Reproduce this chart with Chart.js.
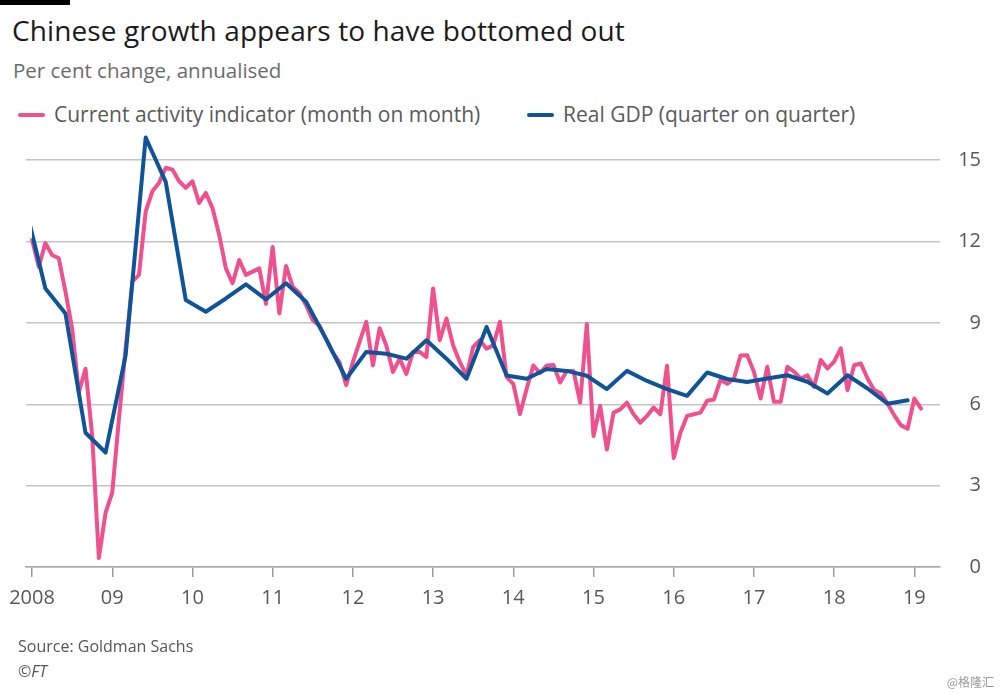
<!DOCTYPE html>
<html>
<head>
<meta charset="utf-8">
<script src="https://cdn.jsdelivr.net/npm/chart.js@4"></script>
<style>
  body { margin: 0; background: #fff; font-family: "Open Sans", sans-serif; }
  #wrap { position: relative; width: 1000px; height: 694px; overflow: hidden; }
  #bar { position: absolute; left: 0; top: 0; width: 70px; height: 5px; background: #000; }
  .txt { position: absolute; white-space: nowrap; }
  #title { left: 12px; top: 11px; font-size: 28px; color: #1b1b1b; letter-spacing: 0.1px; }
  #sub { left: 13px; top: 56px; font-size: 20.5px; color: #6b6b6b; }
  .key { position: absolute; top: 100px; font-size: 21px; color: #5a5a5a; }
  .key i { display: inline-block; width: 27px; height: 4px; border-radius: 2px; vertical-align: middle; margin-right: 9px; position: relative; top: -1px; }
  #src { left: 18px; top: 635px; font-size: 16px; color: #555; }
  #ft { left: 18px; top: 660px; font-size: 16px; color: #555; font-style: italic; }
  #mark { right: 6px; top: 673px; font-size: 12px; color: #999; font-family: "Noto Sans CJK SC", sans-serif; }
  canvas { position: absolute; left: 0; top: 0; }
</style>
</head>
<body>
<div id="wrap">
  <div id="bar"></div>
  <div class="txt" id="title">Chinese growth appears to have bottomed out</div>
  <div class="txt" id="sub">Per cent change, annualised</div>
  <div class="key" style="left:18px"><i style="background:#f0508e"></i>Current activity indicator (month on month)</div>
  <div class="key" style="left:527px"><i style="background:#0f5499"></i>Real GDP (quarter on quarter)</div>
  <canvas id="chart" width="1000" height="694"></canvas>
  <div class="txt" id="src">Source: Goldman Sachs</div>
  <div class="txt" id="ft">©FT</div>
  <div class="txt" id="mark">@格隆汇</div>
</div>
<script>
// Current activity indicator, monthly from Jan 2008 to Feb 2019
const caiMonthly = [
  12.06, 11.07, 11.94, 11.5, 11.38, 10.15, 8.79, 6.44, 7.31, 4.84, 0.33, 2.0,
  2.74, 5.46, 8.05, 10.52, 10.77, 13.1, 13.85, 14.16, 14.72, 14.65, 14.22, 13.98,
  14.22, 13.42, 13.79, 13.23, 12.25, 11.01, 10.46, 11.32, 10.77, 10.89, 11.01, 9.7,
  11.8, 9.35, 11.1, 10.33, 10.1, 9.65, 9.1, 8.9, 8.4, 7.9, 7.55, 6.7,
  7.55, 8.3, 9.04, 7.43, 8.8, 8.17, 7.19, 7.68, 7.12, 7.93, 7.93, 7.74,
  10.27, 8.36, 9.16, 8.17, 7.56, 7.06, 8.11, 8.36, 8.05, 8.17, 9.04, 7.0,
  6.75, 5.64, 6.57, 7.43, 7.15, 7.43, 7.45, 6.8, 7.23, 7.23, 6.06, 8.96,
  4.83, 5.94, 4.33, 5.69, 5.81, 6.06, 5.63, 5.32, 5.57, 5.88, 5.63, 7.42,
  4.02, 4.95, 5.57, 5.63, 5.69, 6.13, 6.17, 6.9, 6.75, 6.94, 7.8, 7.81,
  7.2, 6.21, 7.38, 6.09, 6.09, 7.38, 7.2, 6.95, 7.07, 6.64, 7.63, 7.32,
  7.57, 8.06, 6.52, 7.44, 7.5, 6.95, 6.52, 6.4, 6.02, 5.59, 5.22, 5.1,
  6.21, 5.84
];

// Real GDP q/q annualised, quarterly from 2007Q4 to 2018Q4 (plotted at quarter end)
const gdpQuarterly = [
  13.3,
  10.27, 9.35, 4.95, 4.22,
  7.8, 15.83, 14.2, 9.84,
  9.41, 9.9, 10.42, 9.87,
  10.46, 9.78, 8.4, 6.94,
  7.93, 7.86, 7.68, 8.36,
  7.68, 6.94, 8.85, 7.06,
  6.94, 7.3, 7.23, 7.05,
  6.56, 7.23, 6.86, 6.56,
  6.31, 7.17, 6.93, 6.82,
  6.95, 7.07, 6.83, 6.4,
  7.07, 6.58, 6.02, 6.15
];

const yearTicks = [2008, 2009, 2010, 2011, 2012, 2013, 2014, 2015, 2016, 2017, 2018, 2019];
const yearLabels = ['2008', '09', '10', '11', '12', '13', '14', '15', '16', '17', '18', '19'];
const yTicks = [0, 3, 6, 9, 12, 15];

const startYear = 2008;
const caiPoints = caiMonthly.map((v, i) => ({ x: startYear + i / 12, y: v }));
// first quarter end is Dec 2007, one month before the start
const gdpPoints = gdpQuarterly.map((v, i) => ({ x: startYear + (3 * i - 1) / 12, y: v }));

const labelFont = { family: '"Open Sans", sans-serif', size: 20 };

new Chart(document.getElementById('chart'), {
  type: 'line',
  data: {
    datasets: [
      {
        label: 'Real GDP (quarter on quarter)',
        data: gdpPoints,
        borderColor: '#0f5499',
        borderWidth: 4,
        borderJoinStyle: 'round',
        borderCapStyle: 'round',
        pointRadius: 0,
        tension: 0,
        clip: { left: -6, right: 2, top: 4, bottom: 4 }
      },
      {
        label: 'Current activity indicator (month on month)',
        data: caiPoints,
        borderColor: '#f0508e',
        borderWidth: 4,
        borderJoinStyle: 'round',
        borderCapStyle: 'round',
        pointRadius: 0,
        tension: 0
      }
    ]
  },
  options: {
    responsive: false,
    animation: false,
    layout: { padding: { left: 26, top: 133, right: 19, bottom: 0 } },
    plugins: { legend: { display: false }, tooltip: { enabled: false } },
    scales: {
      x: {
        type: 'linear',
        min: 2007.925,
        max: 2019.32,
        afterBuildTicks: axis => { axis.ticks = yearTicks.map(v => ({ value: v })); },
        afterFit: axis => { axis.height = 127; },
        grid: { drawOnChartArea: false, drawTicks: true, tickLength: 10, color: '#9a9a9a', lineWidth: 1.5 },
        border: { display: true, color: '#a8a8a8', width: 1.5 },
        ticks: {
          autoSkip: false,
          maxRotation: 0,
          padding: 9,
          color: '#585858',
          font: labelFont,
          callback: (v) => yearLabels[yearTicks.indexOf(v)]
        }
      },
      y: {
        position: 'right',
        min: 0,
        max: 16,
        afterBuildTicks: axis => { axis.ticks = yTicks.map(v => ({ value: v })); },
        afterFit: axis => { axis.width = 41; },
        grid: { drawTicks: false, color: '#c4c4c4', lineWidth: 1.5 },
        border: { display: false },
        ticks: { crossAlign: 'far', padding: 0, color: '#585858', font: labelFont }
      }
    }
  }
});
</script>
</body>
</html>
